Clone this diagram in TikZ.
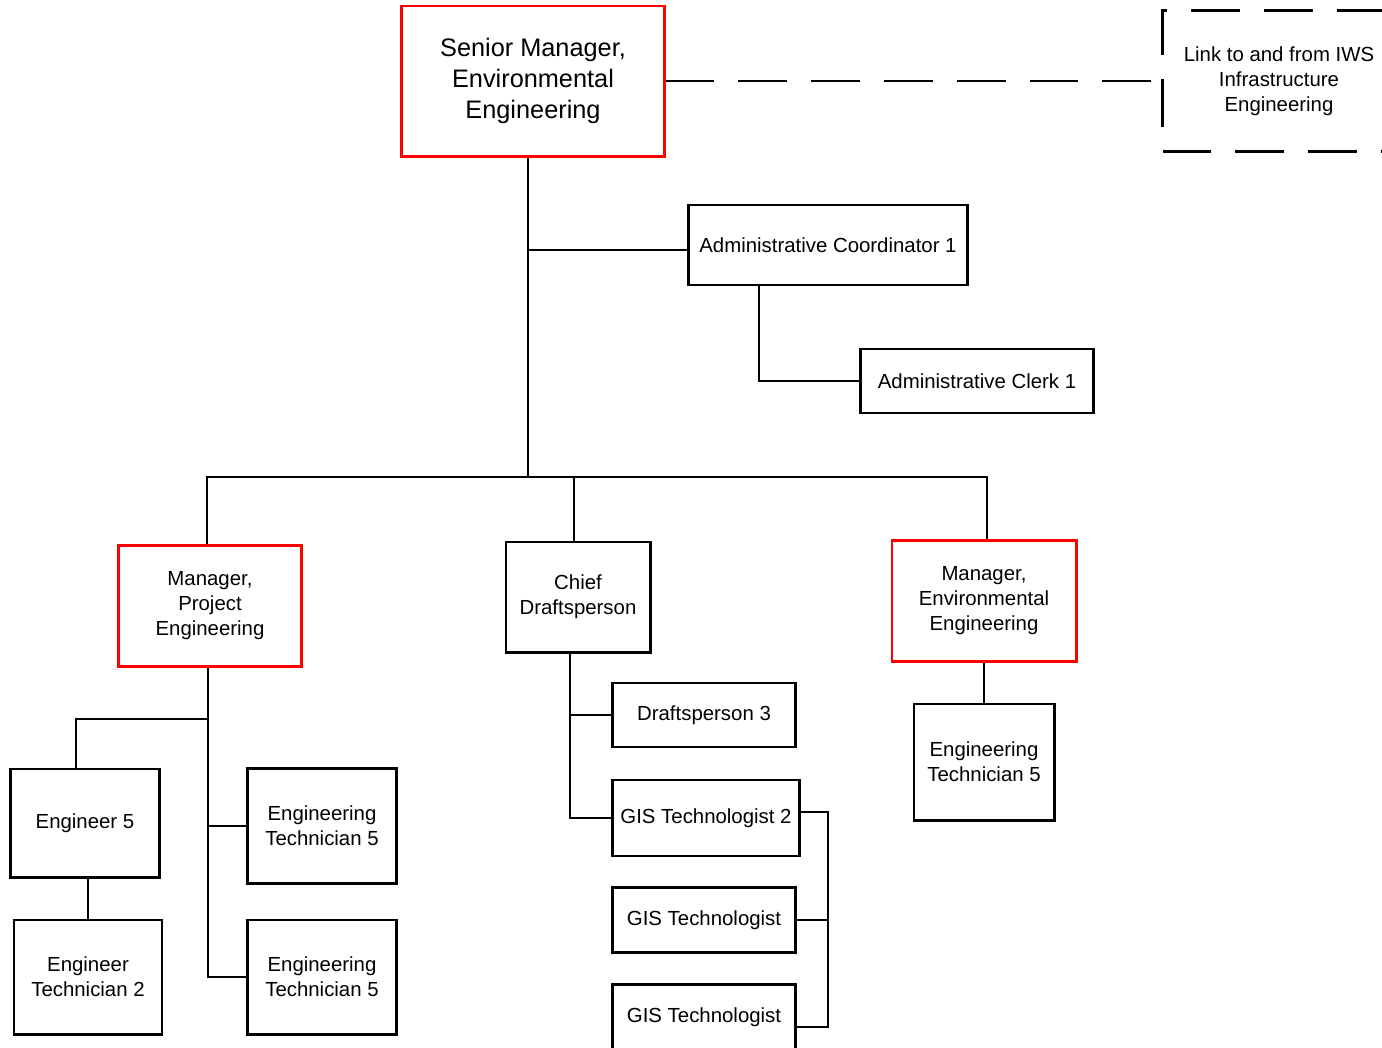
\documentclass[tikz,border=0pt]{standalone}
\usepackage{fontspec}
\setmainfont{Liberation Sans}

\begin{document}
\begin{tikzpicture}[
    x=0.025cm, y=-0.025cm,
    box/.style={draw=black, line width=2.1pt, inner sep=0pt, align=center,
                font=\fontsize{14.5}{17.8}\selectfont},
    head/.style={box, draw=red},
    conn/.style={black, line width=1.8pt},
    linkline/.style={black, line width=2.1pt, dash pattern=on 1.22cm off 0.6cm}
]
    \clip (0,0) rectangle (1382,1047);

    \node[head, minimum width=6.55cm, minimum height=3.75cm,
          font=\fontsize{18}{22}\selectfont] (senior) at (533,81)
        {Senior Manager,\\Environmental\\Engineering};
    \node[box, draw=none, minimum width=5.75cm, minimum height=3.45cm] (link) at (1279,81)
        {Link to and from IWS\\Infrastructure\\Engineering};
    \node[box, minimum width=6.975cm, minimum height=2.0cm] (admin) at (828,245)
        {Administrative Coordinator 1};
    \node[box, minimum width=5.825cm, minimum height=1.6cm] (clerk) at (977,381)
        {Administrative Clerk 1};

    \node[head, minimum width=4.575cm, minimum height=3.025cm] (mgrpe) at (210,606)
        {Manager,\\Project\\Engineering};
    \node[box, minimum width=3.6cm, minimum height=2.75cm] (chief) at (578,597)
        {Chief\\Draftsperson};
    \node[head, minimum width=4.6cm, minimum height=3.025cm] (mgree) at (984,601)
        {Manager,\\Environmental\\Engineering};

    \node[box, minimum width=3.725cm, minimum height=2.7cm] (eng5) at (85,823)
        {Engineer 5};
    \node[box, minimum width=3.7cm, minimum height=2.85cm] (engtech2) at (88,977)
        {Engineer\\Technician 2};
    \node[box, minimum width=3.725cm, minimum height=2.875cm] (et5a) at (322,826)
        {Engineering\\Technician 5};
    \node[box, minimum width=3.725cm, minimum height=2.85cm] (et5b) at (322,977)
        {Engineering\\Technician 5};

    \node[box, minimum width=4.575cm, minimum height=1.6cm] (draft3) at (704,715)
        {Draftsperson 3};
    \node[box, minimum width=4.675cm, minimum height=1.9cm] (gis2) at (706,818)
        {GIS Technologist 2};
    \node[box, minimum width=4.575cm, minimum height=1.625cm] (gisa) at (704,920)
        {GIS Technologist};
    \node[box, minimum width=4.575cm, minimum height=1.625cm] (gisb) at (704,1017)
        {GIS Technologist};

    \node[box, minimum width=3.5cm, minimum height=2.9cm] (et5c) at (984,762)
        {Engineering\\Technician 5};

    \coordinate (bus) at (528,477);
    \coordinate (pesplit) at (208,719);
    \coordinate (chiefx) at (570,0);
    \coordinate (gisx) at (828,0);

    \draw[linkline] (senior.east) -- (link.west);
    \draw[linkline, dash phase=1.22cm] (link.south west) -- (link.north west) -- (link.north east);
    \draw[linkline] (link.south west) -- (link.south east);

    \draw[conn] (senior.south -| bus) -- (bus);
    \draw[conn] ([yshift=-0.125cm]admin.west) -- ([yshift=-0.125cm]admin.west -| bus);
    \draw[conn] ([xshift=-1.725cm]admin.south) |- (clerk.west);
    \draw[conn] ([xshift=-0.075cm]mgrpe.north) |- (bus) -| ([xshift=0.075cm]mgree.north);
    \draw[conn] ([xshift=-0.1cm]chief.north) -- ([xshift=-0.1cm]chief.north |- bus);

    \draw[conn] (mgrpe.south -| pesplit) |- (et5b.west);
    \draw[conn] (et5a.west) -- (et5a.west -| pesplit);
    \draw[conn] ([xshift=-0.225cm]eng5.north) |- (pesplit);
    \draw[conn] ([xshift=0.075cm]eng5.south) -- ([xshift=0.075cm]eng5.south |- engtech2.north);

    \draw[conn] (chief.south -| chiefx) |- (gis2.west);
    \draw[conn] (draft3.west) -- (draft3.west -| chiefx);
    \draw[conn] ([yshift=0.15cm]gis2.east) -| ([yshift=-0.25cm]gisx |- gisb.east) -- ([yshift=-0.25cm]gisb.east);
    \draw[conn] (gisa.east) -- (gisa.east -| gisx);

    \draw[conn] (mgree.south) -- (et5c.north);
\end{tikzpicture}
\end{document}
